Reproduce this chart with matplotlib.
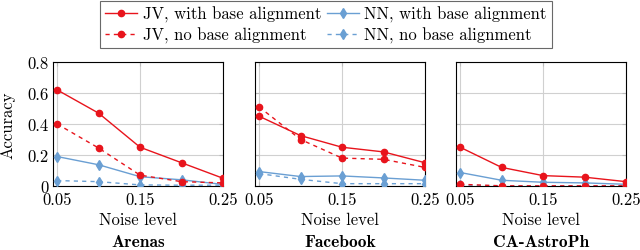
import numpy as np
import matplotlib
matplotlib.use("Agg")
import matplotlib.pyplot as plt
from matplotlib.lines import Line2D

noise = [0.05, 0.10, 0.15, 0.20, 0.25]
datasets = ["Arenas", "Facebook", "CA-AstroPh"]

jv_with = [[0.62, 0.47, 0.25, 0.15, 0.05],
           [0.45, 0.325, 0.25, 0.22, 0.15],
           [0.25, 0.12, 0.067, 0.057, 0.028]]
jv_no = [[0.40, 0.245, 0.07, 0.028, 0.02],
         [0.51, 0.30, 0.18, 0.172, 0.12],
         [0.011, 0.001, 0.001, 0.001, 0.001]]
nn_with = [[0.19, 0.137, 0.06, 0.04, 0.01],
           [0.093, 0.061, 0.065, 0.052, 0.037],
           [0.087, 0.037, 0.024, 0.02, 0.011]]
nn_no = [[0.035, 0.028, 0.007, 0.005, 0.005],
         [0.08, 0.043, 0.015, 0.015, 0.015],
         [0.004, 0.002, 0.002, 0.002, 0.002]]

labels = ["JV, with base alignment", "JV, no base alignment",
          "NN, with base alignment", "NN, no base alignment"]

red = "#e8141c"
blue = "#6a9fd3"
fs = 12

plt.rcParams["font.family"] = ["cmr10", "DejaVu Serif"]
plt.rcParams["axes.formatter.use_mathtext"] = True
plt.rcParams["font.size"] = fs

fig = plt.figure(figsize=(6.4, 2.51), dpi=100)
lefts = [53 / 640, 255 / 640, 456 / 640]
axes = [fig.add_axes([l, 64 / 251, 170 / 640, 124 / 251]) for l in lefts]

for i, ax in enumerate(axes):
    ax.plot(noise, jv_with[i], color=red, lw=1, marker="o", ms=4.5, zorder=4)
    ax.plot(noise, jv_no[i], color=red, lw=1, ls=(0, (3, 3)), marker="o", ms=4.5, zorder=4)
    ax.plot(noise, nn_with[i], color=blue, lw=1, marker="d", ms=5, zorder=3)
    ax.plot(noise, nn_no[i], color=blue, lw=1, ls=(0, (3, 3)), marker="d", ms=5, zorder=3)
    ax.set_xlim(0.045, 0.25)
    ax.set_ylim(0, 0.8)
    ax.set_xticks([0.05, 0.15, 0.25])
    ax.set_xticklabels(["0.05", "0.15", "0.25"])
    ax.set_yticks([0, 0.2, 0.4, 0.6, 0.8])
    if i == 0:
        ax.set_yticklabels(["0", "0.2", "0.4", "0.6", "0.8"])
        ax.text(-45 / 170, 0.5, "Accuracy", transform=ax.transAxes, rotation=90,
                ha="center", va="center", fontsize=fs)
    else:
        ax.set_yticklabels([])
    ax.grid(True, color="#d0d0d0", lw=0.8)
    ax.set_axisbelow(True)
    ax.tick_params(direction="in", length=3, color="#bbbbbb", labelsize=fs,
                   top=True, right=True)
    ax.tick_params(axis="x", pad=4)
    ax.tick_params(axis="y", pad=3)
    for s in ax.spines.values():
        s.set_linewidth(0.8)
    ax.text(0.5, -38 / 124, "Noise level", transform=ax.transAxes,
            ha="center", va="baseline", fontsize=fs)
    ax.text(0.5, -60 / 124, datasets[i], transform=ax.transAxes, ha="center",
            va="baseline", fontweight="bold", family=["cmb10", "DejaVu Serif"],
            fontsize=12.5)

handles = [
    Line2D([], [], color=red, lw=1, marker="o", ms=4.5),
    Line2D([], [], color=red, lw=1, ls=(0, (3, 3)), marker="o", ms=4.5),
    Line2D([], [], color=blue, lw=1, marker="d", ms=5),
    Line2D([], [], color=blue, lw=1, ls=(0, (3, 3)), marker="d", ms=5),
]
leg = fig.legend(handles, labels, ncol=2, loc="upper center",
                 bbox_to_anchor=(326 / 640, 0.998), frameon=True, fancybox=False,
                 edgecolor="#444444", handlelength=1.9, handletextpad=0.35,
                 columnspacing=0.35, labelspacing=0.25, borderpad=0.3,
                 borderaxespad=0.1, fontsize=fs)
leg.get_frame().set_linewidth(0.8)

fig.savefig("out.png", dpi=100)
